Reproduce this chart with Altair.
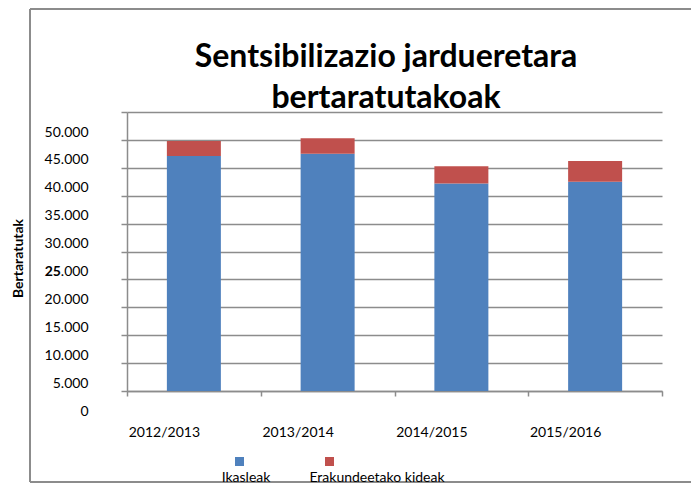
import altair as alt
import pandas as pd

years = ["2012/2013", "2013/2014", "2014/2015", "2015/2016"]
series = ["Ikasleak", "Erakundeetako kideak"]
ikasleak = [42100, 42500, 37200, 37500]
erakunde = [2700, 2800, 3100, 3700]
colors = ["#4F81BD", "#C0504D"]
y_ticks = [0, 5000, 10000, 15000, 20000, 25000, 30000, 35000, 40000, 45000, 50000]
title_lines = ["Sentsibilizazio jardueretara", "bertaratutakoak"]
y_title = "Bertaratutak"

FONT = "Lato"
GRID = "#8c8c8c"

rows = []
for i, yr in enumerate(years):
    rows.append({"year": yr, "series": series[0], "order": 0, "value": ikasleak[i]})
    rows.append({"year": yr, "series": series[1], "order": 1, "value": erakunde[i]})
df = pd.DataFrame(rows)

yscale = alt.Scale(domain=[y_ticks[0], y_ticks[-1]], nice=False, zero=True)
yaxis = alt.Axis(values=y_ticks, title=y_title, grid=True,
                 gridColor=GRID, gridWidth=1.4, domainColor=GRID,
                 domainWidth=1.5, tickColor=GRID, tickWidth=1.5,
                 tickSize=6, labelPadding=33, labelOffset=20,
                 labelFont=FONT, labelFontSize=14, labelColor="#000000",
                 labelExpr="datum.value == 25000 ? '.000' : replace(format(datum.value, ','), ',', '.')",
                 titleFont=FONT, titleFontSize=14, titleFontWeight="bold",
                 titleColor="#000000", titleX=-109, titleY=146,
                 titleAngle=-90, titleAlign="center", titleBaseline="middle")

bars = alt.Chart(df).mark_bar(width=54).encode(
    x=alt.X("year:N", sort=years,
            scale=alt.Scale(paddingInner=0, paddingOuter=0),
            axis=alt.Axis(title=None, labelAngle=0, tickBand="extent",
                          labelOffset=-30, labelPadding=29, tickSize=5,
                          domainColor=GRID, tickColor=GRID, domainWidth=1.5,
                          tickWidth=1.5, labelFont=FONT, labelFontSize=14,
                          labelColor="#000000", grid=False)),
    y=alt.Y("value:Q", stack="zero", scale=yscale, axis=yaxis),
    color=alt.Color("series:N", scale=alt.Scale(domain=series, range=colors), legend=None),
    order=alt.Order("order:Q", sort="ascending"),
)

bold_df = pd.DataFrame({"value": [y_ticks[5]], "t": [str(y_ticks[5] // 1000)]})
bold25 = alt.Chart(bold_df).mark_text(
    align="right", baseline="middle", dy=20, font=FONT, fontSize=14,
    fontWeight="bold", color="#000000"
).encode(
    y=alt.Y("value:Q", scale=yscale, axis=yaxis),
    x=alt.value(-66),
    text="t:N",
)

one = pd.DataFrame({"a": [0]})
FRAME = dict(color="#8c8c8c", strokeWidth=2)
frame_left = alt.Chart(one).mark_rule(**FRAME).encode(
    x=alt.value(-97), y=alt.value(-103), y2=alt.value(370))
frame_top = alt.Chart(one).mark_rule(**FRAME).encode(
    x=alt.value(-97), x2=alt.value(564), y=alt.value(-103))
frame_bottom = alt.Chart(one).mark_rule(**FRAME).encode(
    x=alt.value(-97), x2=alt.value(564), y=alt.value(370))

title_df = pd.DataFrame({"t": title_lines})
title1 = alt.Chart(title_df.iloc[[0]]).mark_text(
    font=FONT, fontSize=32, fontWeight="bold", align="center",
    baseline="alphabetic", color="#000000"
).encode(text="t:N", x=alt.value(259), y=alt.value(-45))
title2 = alt.Chart(title_df.iloc[[1]]).mark_text(
    font=FONT, fontSize=32, fontWeight="bold", align="center",
    baseline="alphabetic", color="#000000"
).encode(text="t:N", x=alt.value(259), y=alt.value(-4))

leg_layers = []
sym_x = [112.5, 202.5]
txt_x = [119, 250]
for k, s in enumerate(series):
    ldf = pd.DataFrame({"s": [s]})
    leg_layers.append(alt.Chart(ldf).mark_square(size=81, color=colors[k], opacity=1).encode(
        x=alt.value(sym_x[k]), y=alt.value(349.5)))
    leg_layers.append(alt.Chart(ldf).mark_text(
        font=FONT, fontSize=14, align="center", baseline="alphabetic", color="#000000"
    ).encode(text="s:N", x=alt.value(txt_x[k]), y=alt.value(369.5)))

chart = alt.layer(frame_left, frame_top, frame_bottom, bars, bold25, title1, title2,
                  *leg_layers).properties(
    width=535, height=279,
    autosize=alt.AutoSizeParams(type="none"),
    padding={"left": 119, "top": 104, "right": 29, "bottom": 92},
).configure(background="#ffffff").configure_view(stroke=None)

chart.save("out.html", embed_options={"renderer": "svg", "actions": False})
